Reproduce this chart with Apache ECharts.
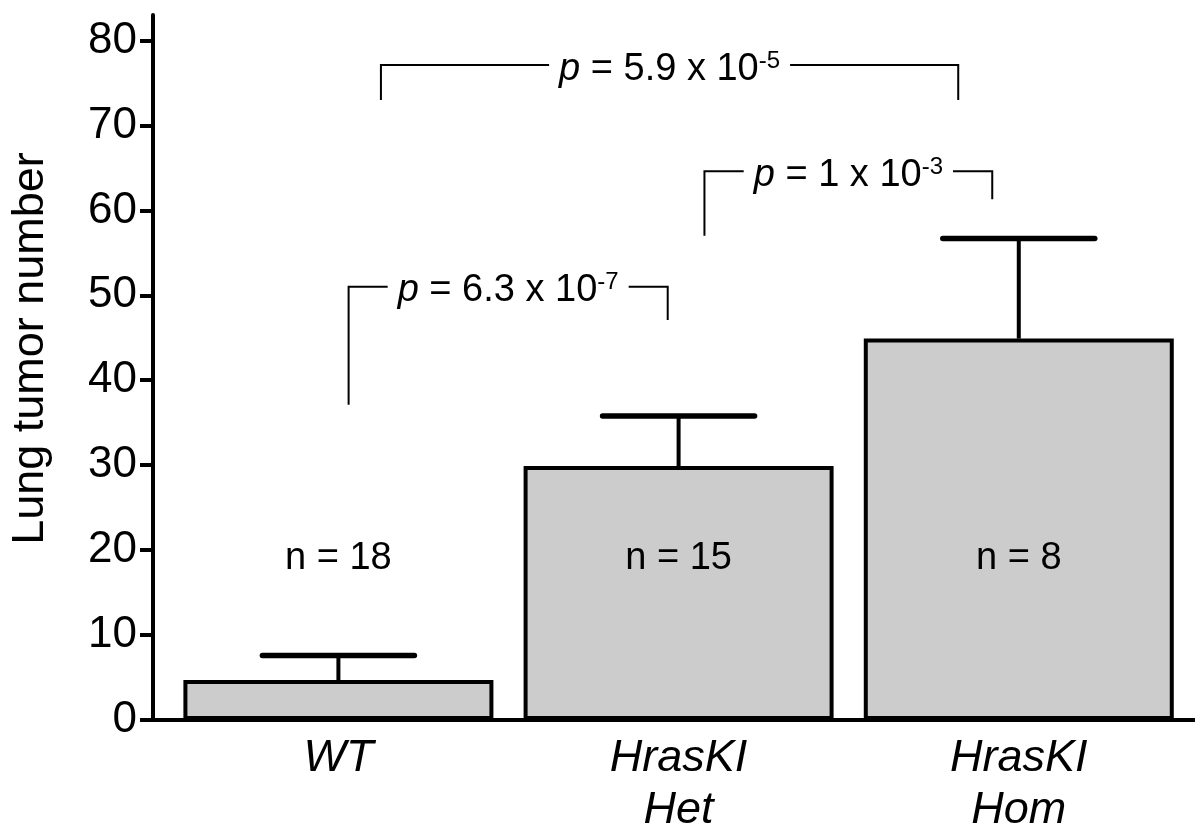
<!DOCTYPE html>
<html>
<head>
<meta charset="utf-8">
<script src="https://cdn.jsdelivr.net/npm/echarts@6/dist/echarts.min.js"></script>
<style>
  html, body { margin: 0; padding: 0; background: #fff; }
  #chart { width: 1195px; height: 836px; }
</style>
</head>
<body>
<div id="chart"></div>
<script>
// data
const categories = ['WT', 'HrasKI\nHet', 'HrasKI\nHom'];
const means = [4.7, 29.9, 44.9];
const upperErr = [7.6, 35.8, 56.7];   // mean + error
const groupSizes = ['n = 18', 'n = 15', 'n = 8'];
const nLabelY = 19;
const yTicks = [0, 10, 20, 30, 40, 50, 60, 70, 80];

// significance brackets, in axis units: [left x, right x, top y, left end y, right end y]
const brackets = [
  [0.03, 0.968, 51.0, 37.1, 47.1],
  [1.076, 1.922, 64.6, 57.0, 61.3],
  [0.125, 1.822, 77.1, 73.0, 73.0]
];
const pMantissa = ['6.3', '1', '5.9'];
const pExponent = ['-7', '-3', '-5'];

const FONT = '"Liberation Sans", Arial, Helvetica, sans-serif';
const chart = echarts.init(document.getElementById('chart'));

function errorBar(params, api) {
  const base = api.coord([api.value(0), api.value(1)]);
  const top = api.coord([api.value(0), api.value(2)]);
  const half = 76;
  return {
    type: 'group',
    children: [
      {type: 'line', shape: {x1: base[0], y1: base[1], x2: top[0], y2: top[1]},
        style: {stroke: '#000', lineWidth: 4}},
      {type: 'line', shape: {x1: top[0] - half, y1: top[1], x2: top[0] + half, y2: top[1]},
        style: {stroke: '#000', lineWidth: 5.5, lineCap: 'round'}}
    ]
  };
}

function nLabel(params, api) {
  const p = api.coord([api.value(0), api.value(1)]);
  return {
    type: 'text', x: p[0], y: p[1],
    style: {text: groupSizes[params.dataIndex], fontSize: 38, fontFamily: FONT, fill: '#000',
      align: 'center', verticalAlign: 'middle'}
  };
}

function bracket(params, api) {
  const i = params.dataIndex;
  const l = api.coord([api.value(0), api.value(2)]);
  const r = api.coord([api.value(1), api.value(2)]);
  const lb = api.coord([api.value(0), api.value(3)]);
  const rb = api.coord([api.value(1), api.value(4)]);
  return {
    type: 'group',
    children: [
      {type: 'polyline', shape: {points: [lb, l, r, rb]},
        style: {stroke: '#000', lineWidth: 2, fill: null}},
      {type: 'text', x: (l[0] + r[0]) / 2, y: l[1] + 4,
        style: {
          text: '{i|p} = ' + pMantissa[i] + ' x 10{sup|' + pExponent[i] + '}',
          fontSize: 38, fontFamily: FONT, fill: '#000', lineHeight: 40,
          align: 'center', verticalAlign: 'middle',
          backgroundColor: '#fff', padding: [0, 10],
          rich: {
            i: {fontStyle: 'italic', fontSize: 38, fontFamily: FONT, lineHeight: 40},
            sup: {fontSize: 24, fontFamily: FONT, lineHeight: 24, verticalAlign: 'top'}
          }
        }}
    ]
  };
}

const option = {
  animation: false,
  grid: {left: 152, right: 0, top: 15, bottom: 115},
  xAxis: {
    type: 'value', min: -0.545, max: 2.518,
    splitLine: {show: false},
    axisLine: {onZero: false, lineStyle: {color: '#000', width: 4}},
    axisTick: {show: false},
    axisLabel: {
      customValues: [0, 1, 2],
      formatter: v => categories[Math.round(v)],
      fontFamily: FONT, fontSize: 45, fontStyle: 'italic', color: '#000',
      lineHeight: 52, margin: 12
    }
  },
  yAxis: {
    type: 'value', min: 0, max: 83, interval: 10,
    name: 'Lung tumor number', nameLocation: 'middle', nameGap: 100,
    nameTextStyle: {fontSize: 45, color: '#000', fontFamily: FONT, padding: [0, 0, 0, 38]},
    axisLine: {show: true, onZero: false, lineStyle: {color: '#000', width: 4}},
    axisTick: {show: true, length: 13, customValues: yTicks, lineStyle: {color: '#000', width: 4}},
    axisLabel: {customValues: yTicks, fontSize: 44, color: '#000', margin: 16, fontFamily: FONT},
    splitLine: {show: false}
  },
  series: [
    {
      type: 'bar',
      data: means.map((v, i) => [i, v]),
      barWidth: 310,
      itemStyle: {color: '#cccccc', borderColor: '#000', borderWidth: 4}
    },
    {
      type: 'custom',
      renderItem: errorBar,
      data: means.map((v, i) => [i, v, upperErr[i]]),
      z: 3
    },
    {
      type: 'custom',
      renderItem: nLabel,
      data: groupSizes.map((s, i) => [i, nLabelY]),
      z: 4
    },
    {
      type: 'custom',
      renderItem: bracket,
      data: brackets,
      z: 4
    }
  ]
};
chart.setOption(option);
</script>
</body>
</html>
